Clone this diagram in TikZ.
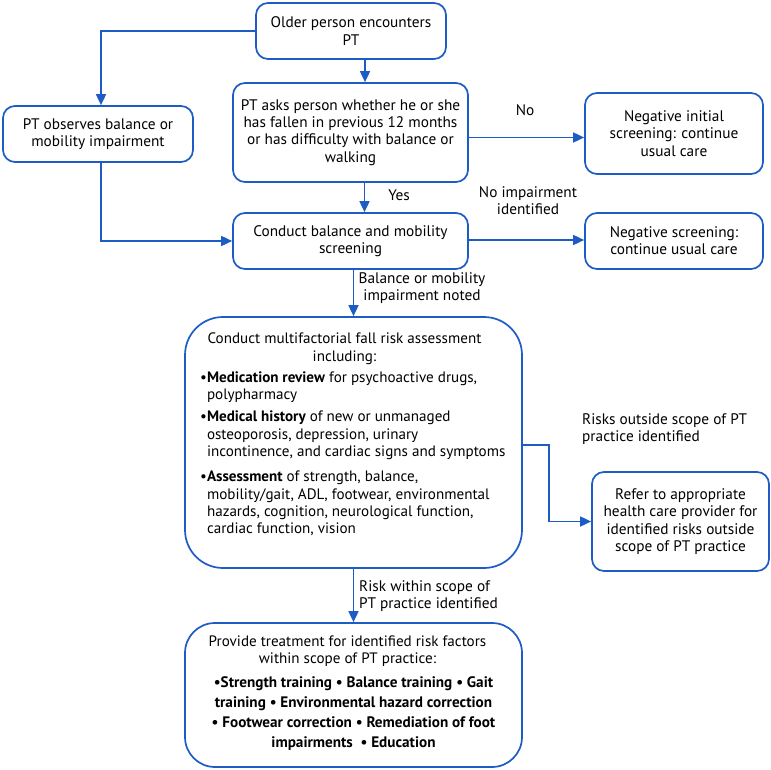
\documentclass[tikz,border=0pt]{standalone}
\usepackage{fontspec}
\setmainfont{PT Sans}
\usetikzlibrary{arrows.meta,calc}
\definecolor{fblue}{RGB}{28,92,196}
\begin{document}
\begin{tikzpicture}[x=1pt,y=-1pt,
  box/.style={draw=fblue,line width=1.7pt,rounded corners=12pt,align=center,inner sep=0pt,font=\fontsize{15.3}{17.3}\selectfont},
  bigbox/.style={draw=fblue,line width=1.7pt,rounded corners=38pt,inner sep=0pt,font=\fontsize{15.1}{17.3}\selectfont},
  arr/.style={draw=fblue,line width=1.7pt,-{Triangle[length=11pt,width=10pt]}},
  lbl/.style={font=\fontsize{15.3}{17}\selectfont,align=center,inner sep=0pt}]
\useasboundingbox (0,0) rectangle (771,770);
\node[box,minimum width=190pt,minimum height=56pt] (top) at (351,31) {Older person encounters\\PT};
\node[box,minimum width=190pt,minimum height=56pt] (left) at (98,134) {PT observes balance or\\mobility impairment};
\node[box,minimum width=235pt,minimum height=99pt] (ask) at (350.5,132.5) {PT asks person whether he or she\\has fallen in previous 12 months\\or has difficulty with balance or\\walking};
\node[box,minimum width=178pt,minimum height=81pt] (negI) at (674,133.5) {Negative initial\\screening: continue\\usual care};
\node[box,minimum width=235pt,minimum height=56pt] (conduct) at (350.5,241) {Conduct balance and mobility\\screening};
\node[box,minimum width=178pt,minimum height=56pt] (negS) at (674,241) {Negative screening:\\continue usual care};
\node[bigbox,minimum width=337pt,minimum height=251pt] (multi) at (353.5,442.5) {\parbox[c][219pt][t]{307pt}{\raggedright
  {\centering\hspace*{-18pt}Conduct multifactorial fall risk assessment\\\hspace*{-18pt}including:\par}
  \vspace{4pt}
  \noindent\hangindent=7pt\hangafter=1\makebox[7pt][l]{•}\textbf{Medication review} for psychoactive drugs,\newline polypharmacy\par
  \vspace{5pt}
  \noindent\hangindent=7pt\hangafter=1\makebox[7pt][l]{•}\textbf{Medical history} of new or unmanaged\newline osteoporosis, depression, urinary\newline incontinence, and cardiac signs and symptoms\par
  \vspace{8pt}
  \noindent\hangindent=7pt\hangafter=1\makebox[7pt][l]{•}\textbf{Assessment} of strength, balance,\newline mobility/gait, ADL, footwear, environmental\newline hazards, cognition, neurological function,\newline cardiac function, vision\par}};
\node[box,minimum width=177pt,minimum height=99pt] (refer) at (680.5,521.5) {Refer to appropriate\\health care provider for\\identified risks outside\\scope of PT practice};
\node[bigbox,rounded corners=30pt,minimum width=337pt,minimum height=144pt] (treat) at (353.5,695) {\parbox[c][118pt][t]{330pt}{\centering
  \hspace*{-12pt}Provide treatment for identified risk factors\\\hspace*{-12pt}within scope of PT practice:\par
  \vspace{4pt}
  {\bfseries\fontsize{15.2}{19.8}\selectfont •Strength training • Balance training • Gait\\training • Environmental hazard correction\\• Footwear correction • Remediation of foot\\impairments~~• Education\par}}};
% labels
\node[lbl] (lno) at (525,110) {No};
\node[lbl] (lyes) at (399,195) {Yes};
\node[lbl] (lnoimp) at (528,201) {No impairment\\identified};
\node[lbl] (lbal) at (422,288) {Balance or mobility\\impairment noted};
\node[lbl,anchor=west,align=left] (lout) at (582,429) {Risks outside scope of PT\\practice identified};
\node[lbl,anchor=west,align=left] (lin) at (359,596) {Risk within scope of\\PT practice identified};
% connectors
\draw[arr] (top.west) -| ([xshift=3pt]left.north);
\draw[arr] ([xshift=14pt]top.south) -- ([xshift=14pt]top.south |- ask.north);
\draw[arr] ([yshift=-5pt]ask.east) -- ([yshift=-5pt]ask.east -| negI.west);
\draw[arr] ([xshift=14pt]ask.south) -- ([xshift=14pt]ask.south |- conduct.north);
\draw[arr] ([xshift=3pt]left.south) |- (conduct.west);
\draw[arr] ([yshift=1pt]conduct.east) -- ([yshift=1pt]conduct.east -| negS.west);
\draw[arr] (multi.north |- conduct.south) -- (multi.north);
\draw[arr] ([yshift=-2.5pt]multi.east) -- ++(26,0) |- (refer.west);
\draw[arr] (multi.south) -- (treat.north);
\end{tikzpicture}
\end{document}
